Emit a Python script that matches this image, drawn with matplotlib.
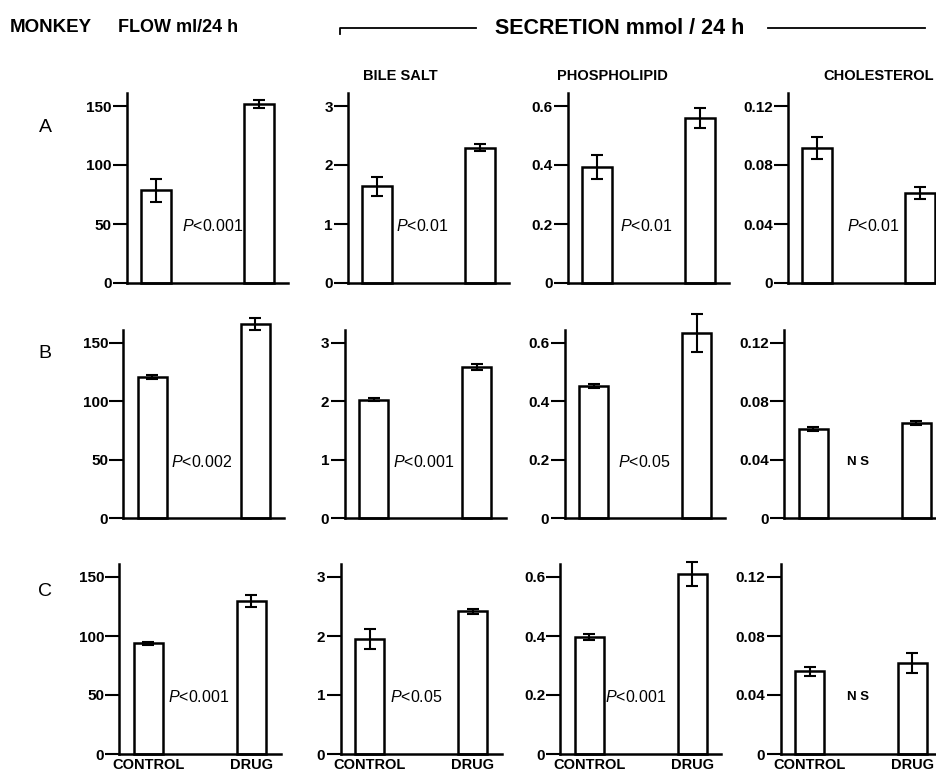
import matplotlib.pyplot as plt
from matplotlib.lines import Line2D
import numpy as np

# Gruplar ve paneller
groups = ['CONTROL', 'DRUG']
row_labels = ['A', 'B', 'C']
col_titles = ['', 'BILE SALT', 'PHOSPHOLIPID', 'CHOLESTEROL']

# Akis (ml/24 h)
flow_mean = [[78.5, 151.5], [121, 166], [94, 130]]
flow_err = [[10, 3.5], [1.7, 5], [1.3, 5]]
flow_ticks = [0, 50, 100, 150]
flow_labels = ['0', '50', '100', '150']
flow_p = ['P<0.001', 'P<0.002', 'P<0.001']

# Safra tuzu (mmol/24 h)
bile_mean = [[1.64, 2.29], [2.03, 2.59], [1.95, 2.42]]
bile_err = [[0.16, 0.06], [0.03, 0.05], [0.17, 0.04]]
bile_ticks = [0, 1, 2, 3]
bile_labels = ['0', '1', '2', '3']
bile_p = ['P<0.01', 'P<0.001', 'P<0.05']

# Fosfolipid
phos_mean = [[0.393, 0.559], [0.453, 0.634], [0.397, 0.61]]
phos_err = [[0.041, 0.034], [0.006, 0.066], [0.009, 0.04]]
phos_ticks = [0, 0.2, 0.4, 0.6]
phos_labels = ['0', '0.2', '0.4', '0.6']
phos_p = ['P<0.01', 'P<0.05', 'P<0.001']

# Kolesterol
chol_mean = [[0.0915, 0.061], [0.061, 0.065], [0.056, 0.062]]
chol_err = [[0.0076, 0.004], [0.0015, 0.0012], [0.003, 0.0068]]
chol_ticks = [0, 0.04, 0.08, 0.12]
chol_labels = ['0', '0.04', '0.08', '0.12']
chol_p = ['P<0.01', 'NS', 'NS']

panels = [
    (flow_mean, flow_err, flow_ticks, flow_labels, flow_p),
    (bile_mean, bile_err, bile_ticks, bile_labels, bile_p),
    (phos_mean, phos_err, phos_ticks, phos_labels, phos_p),
    (chol_mean, chol_err, chol_ticks, chol_labels, chol_p),
]

plt.rcParams['font.family'] = ['Liberation Sans', 'DejaVu Sans']
plt.rcParams['mathtext.fontset'] = 'custom'
plt.rcParams['mathtext.it'] = 'Liberation Sans:italic'
plt.rcParams['mathtext.rm'] = 'Liberation Sans'

W, H = 937, 779
fig = plt.figure(figsize=(W / 100, H / 100), dpi=100)

# Piksel yerlesimi
base_y = [283, 518, 754]
top_y = [106, 343, 577]
row_shift = [0, -3.5, -7.5]
spine_x = [127, 348, 568, 788]
ax_w = 161
# p yazisinin sol kenari (satir x sutun)
p_x = [[0.25, 0.18, 0.22, 0.29],
       [0.18, 0.19, 0.24, 0.33],
       [0.19, 0.20, 0.15, 0.36]]

for r in range(3):
    for c in range(4):
        mean, err, ticks, tlabels, plabels = panels[c]
        span = base_y[r] - top_y[r]
        ax_h = span + 13
        left = spine_x[c] + row_shift[r]
        ax = fig.add_axes([left / W, 1 - base_y[r] / H, ax_w / W, ax_h / H])
        x = np.arange(len(groups))
        ax.bar(x, mean[r], width=0.29, color='white', edgecolor='black',
               linewidth=1.8, clip_on=False)
        eb = ax.errorbar(x, mean[r], yerr=err[r], fmt='none', ecolor='black',
                         elinewidth=1.5, capsize=4, capthick=1.5)
        for part in eb.lines[1] + eb.lines[2]:
            part.set_clip_on(False)
        ax.set_xlim(-29 / 103, -29 / 103 + ax_w / 103)
        ax.set_ylim(0, ticks[-1] * ax_h / span)
        ax.set_yticks(ticks)
        ax.set_yticklabels(tlabels, fontweight='bold', fontsize=11)
        ax.tick_params(axis='y', direction='out', length=10, width=1.5, pad=1)
        for s in ['top', 'right']:
            ax.spines[s].set_visible(False)
        ax.spines['left'].set_linewidth(1.8)
        ax.spines['bottom'].set_linewidth(1.8)
        if r == 2:
            ax.set_xticks(x)
            ax.set_xticklabels(groups, fontweight='bold', fontsize=10.5)
            ax.tick_params(axis='x', length=0, pad=3)
        else:
            ax.set_xticks([])
        # p degeri
        txt = plabels[r]
        if txt == 'NS':
            ax.text(p_x[r][c], ticks[-1] * 0.32, 'N S', fontsize=9.5, fontweight='bold',
                    ha='left', va='center')
        else:
            ax.text(p_x[r][c], ticks[-1] * 0.32, r'$P$' + txt[1:], fontsize=11.5,
                    ha='left', va='center')

# Basliklar
fig.text(10 / W, 1 - 28 / H, 'MONKEY', fontsize=13.5, fontweight='bold', ha='left', va='center')
fig.text(118 / W, 1 - 28 / H, 'FLOW ml/24 h', fontsize=13, fontweight='bold',
         ha='left', va='center')
fig.text(620 / W, 1 - 28 / H, 'SECRETION mmol / 24 h', fontsize=15.5, fontweight='bold',
         ha='center', va='center')
fig.add_artist(Line2D([340 / W, 340 / W, 476 / W], [1 - 34 / H, 1 - 28 / H, 1 - 28 / H],
                      color='black', linewidth=1.3))
fig.add_artist(Line2D([768 / W, 925 / W], [1 - 28 / H, 1 - 28 / H], color='black', linewidth=1.3))

col_x = [0, 400, 612, 934]
col_ha = ['center', 'center', 'center', 'right']
for c in range(1, 4):
    fig.text(col_x[c] / W, 1 - 76 / H, col_titles[c], fontsize=10.5, fontweight='bold',
             ha=col_ha[c], va='center')

row_ly = [128, 353, 592]
for r in range(3):
    fig.text(45 / W, 1 - row_ly[r] / H, row_labels[r], fontsize=14, ha='center', va='center')

plt.savefig('out.png', dpi=100)
plt.close()
